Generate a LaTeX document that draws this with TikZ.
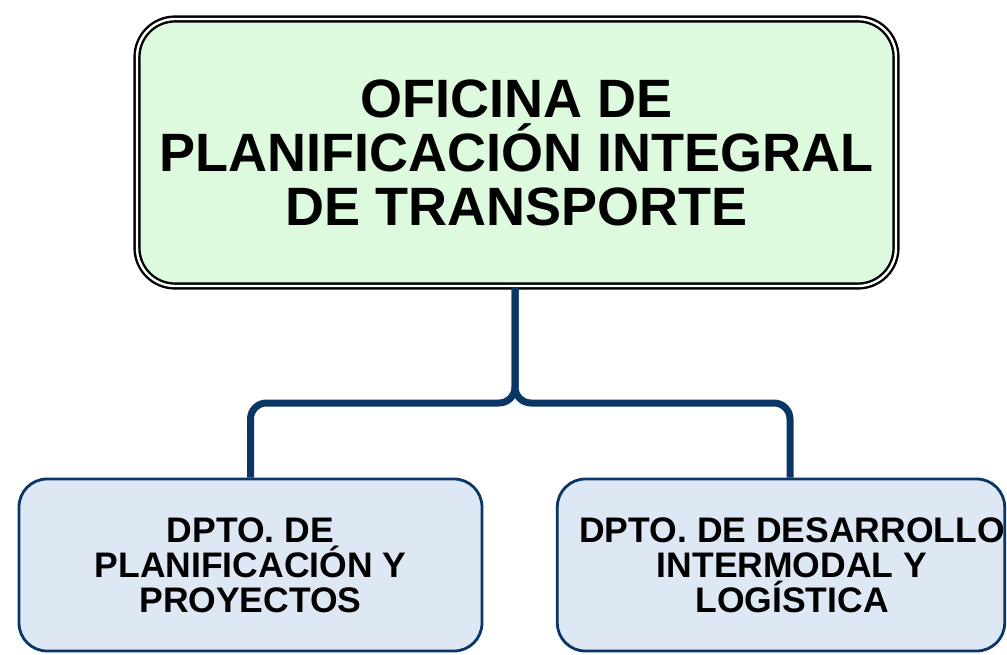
\documentclass[tikz,border=0pt]{standalone}
\usepackage{fontspec}
\setmainfont{Liberation Sans}
\usepackage{xcolor}
\definecolor{verdeclaro}{rgb}{0.87,0.98,0.87}
\definecolor{azulclaro}{rgb}{0.87,0.91,0.96}
\definecolor{azulosc}{rgb}{0.04,0.21,0.40}

\begin{document}
\begin{tikzpicture}[x=1pt,y=-1pt,
  jefe/.style={draw=black, line width=2.4pt, double=white, double distance=2.4pt, fill=verdeclaro, rounded corners=38pt, minimum width=759pt, minimum height=267pt, align=center, font=\fontsize{54}{54}\selectfont\bfseries, inner sep=0pt},
  dpto/.style={draw=azulosc, line width=2.8pt, fill=azulclaro, rounded corners=28pt, minimum height=172pt, align=center, font=\fontsize{35.5}{35}\selectfont\bfseries, inner sep=0pt},
  enlace/.style={draw=azulosc, line width=7pt, rounded corners=16pt}]
\useasboundingbox (0,0) rectangle (1007,655);
\node[jefe] (ofi) at (516.5,152.5) {OFICINA DE\\PLANIFICACI\'ON INTEGRAL\\DE TRANSPORTE};
\node[dpto, minimum width=463pt] (dptoplan) at (250.5,565) {DPTO. DE\\PLANIFICACI\'ON Y\\PROYECTOS};
\node[dpto, minimum width=446pt] (dptodes) at (781,565) {\hspace*{22pt}DPTO. DE DESARROLLO\\\hspace*{22pt}INTERMODAL Y\\\hspace*{22pt}LOG\'ISTICA};
\coordinate (bus) at (515,403);
\draw[enlace] (ofi.south -| bus) -- (bus) -| (dptoplan.north);
\draw[enlace] (ofi.south -| bus) -- (bus) -| (dptodes.north -| 790,0);
\end{tikzpicture}
\end{document}
